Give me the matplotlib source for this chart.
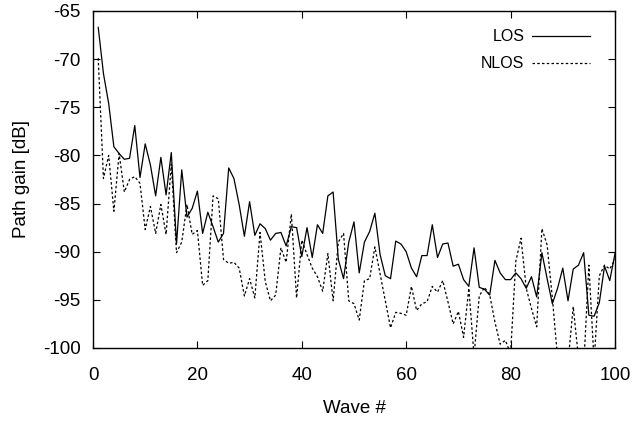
import numpy as np
import matplotlib
matplotlib.use("Agg")
import matplotlib.pyplot as plt

plt.rcParams["font.family"] = ["Liberation Sans", "DejaVu Sans"]
plt.rcParams["axes.unicode_minus"] = False

# ---- data --------------------------------------------------------------
wave = np.arange(1, 101)

los = [
    -66.7, -71.5, -74.6, -79.1, -79.8, -80.4, -80.3, -76.9, -82.3, -78.8,
    -81.0, -84.2, -80.2, -84.1, -79.7, -89.2, -81.5, -86.4, -85.5, -83.7,
    -88.1, -85.9, -87.4, -89.0, -88.1, -81.3, -82.4, -85.1, -88.4, -84.8,
    -88.3, -87.1, -87.6, -88.8, -88.1, -88.0, -89.4, -87.4, -87.5, -90.5,
    -87.5, -90.6, -87.2, -88.1, -84.2, -83.8, -90.8, -92.8, -89.0, -86.9,
    -92.2, -89.0, -87.9, -86.0, -90.3, -92.5, -92.8, -88.9, -89.2, -90.0,
    -91.7, -92.6, -90.4, -90.4, -87.2, -90.6, -89.2, -89.1, -91.5, -91.3,
    -92.9, -93.6, -89.6, -93.7, -93.9, -94.5, -90.9, -92.2, -92.9, -92.9,
    -92.2, -92.8, -93.8, -92.6, -94.7, -90.1, -92.8, -95.4, -93.8, -91.7,
    -95.1, -91.8, -91.4, -90.1, -96.6, -96.7, -95.3, -91.5, -93.0, -90.2,
]

nlos = [
    -69.9, -82.4, -80.0, -85.8, -79.8, -83.8, -82.5, -82.2, -82.9, -87.7,
    -85.3, -88.1, -85.1, -88.2, -80.9, -90.1, -89.0, -85.1, -88.2, -87.8,
    -93.5, -93.0, -84.2, -84.5, -90.8, -91.2, -91.1, -91.7, -94.6, -92.8,
    -94.8, -88.0, -93.1, -95.1, -94.5, -89.6, -91.1, -86.1, -94.8, -88.8,
    -90.3, -91.7, -92.6, -94.1, -90.2, -95.1, -89.0, -88.1, -95.1, -95.4,
    -97.1, -93.0, -92.8, -89.5, -92.3, -95.1, -97.9, -96.3, -96.4, -96.6,
    -93.6, -96.1, -95.4, -95.2, -93.6, -94.2, -93.0, -95.2, -97.5, -96.2,
    -98.9, -93.8, -100.8, -94.6, -93.7, -94.5, -97.3, -99.6, -99.2, -100.6,
    -91.0, -88.6, -93.8, -95.9, -97.8, -87.6, -89.3, -94.8, -101.0, -103.0,
    -101.5, -95.7, -101.0, -102.0, -91.4, -101.5, -92.5, -91.4, -91.8, -90.8,
]

x_ticks = [0, 20, 40, 60, 80, 100]
y_ticks = [-65, -70, -75, -80, -85, -90, -95, -100]

# ---- figure ------------------------------------------------------------
fig = plt.figure(figsize=(6.34, 4.21), dpi=100)
ax = fig.add_axes([0.1467, 0.1734, 0.8233, 0.8005])

ax.plot(wave, los, "-", color="black", lw=0.9, label="LOS")
ax.plot(wave, nlos, color="black", lw=0.9, ls=(0, (2.0, 1.8)), label="NLOS")

ax.set_xlim(0, 100)
ax.set_ylim(-100, -65)
ax.set_xticks(x_ticks)
ax.set_yticks(y_ticks)
ax.tick_params(direction="in", length=5, width=0.8, labelsize=13.5,
               top=True, right=True)
ax.tick_params(axis="x", pad=14)
ax.tick_params(axis="y", pad=9)
for s in ax.spines.values():
    s.set_linewidth(1.0)

ax.set_xlabel("Wave #", fontsize=13.5, labelpad=11.5)
ax.set_ylabel("Path gain [dB]", fontsize=13.5, labelpad=9)

ax.legend(loc="upper right", frameon=False, markerfirst=False, fontsize=11.5,
          handlelength=3.6, handletextpad=0.5, labelspacing=0.75,
          borderpad=0, borderaxespad=0, bbox_to_anchor=(0.952, 0.946))

fig.savefig("out.png", dpi=100)
